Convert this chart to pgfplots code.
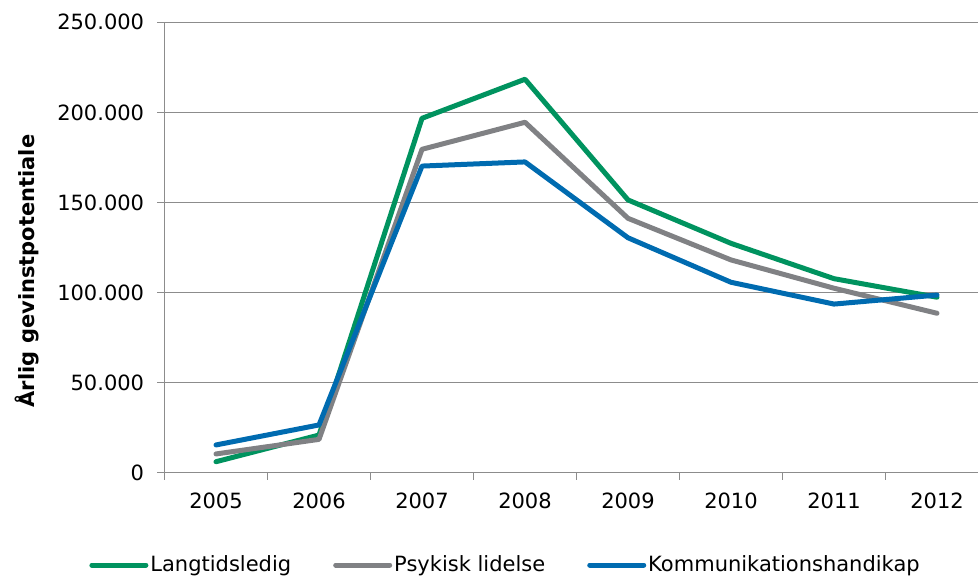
\documentclass[border=0pt]{standalone}
\usepackage{fontspec}
\setmainfont{DejaVu Sans}
\usepackage{pgfplots}
\pgfplotsset{compat=1.18}
\definecolor{cgreen}{HTML}{00935F}
\definecolor{cgray}{HTML}{808184}
\definecolor{cblue}{HTML}{006BB0}
\definecolor{cgrid}{HTML}{8C8C8C}
\begin{document}
\fontsize{10.5}{12.6}\selectfont
\begin{tikzpicture}
\begin{axis}[
  at={(0pt,0pt)}, anchor=south west,
  scale only axis,
  width=406.75pt, height=225.2pt,
  xmin=-0.5, xmax=7.398,
  ymin=0, ymax=250000,
  ytick={0,50000,100000,150000,200000,250000},
  xtick={0,...,7},
  xticklabels={2005,2006,2007,2008,2009,2010,2011,2012},
  minor xtick={-0.5,0.5,1.5,2.5,3.5,4.5,5.5,6.5},
  major x tick style={draw=none},
  tick align=outside,
  major tick length=3.5pt,
  minor tick length=3.5pt,
  tick style={cgrid, line width=0.65pt},
  ymajorgrids,
  grid style={cgrid, line width=0.65pt},
  axis x line*=bottom,
  axis y line*=left,
  axis line style={cgrid, line width=0.65pt},
  y axis line style={-}, x axis line style={-},
  scaled y ticks=false,
  /pgf/number format/.cd, assume math mode=true, 1000 sep={.}, fixed,
  /pgfplots/.cd,
  tick label style={font=\fontsize{10.5}{12.6}\selectfont, text=black},
  yticklabel style={xshift=-3pt},
  xticklabel style={yshift=-2.8pt},
  ylabel={\bfseries Årlig gevinstpotentiale},
  every axis y label/.style={at={(rel axis cs:0,0.5)}, xshift=-68.75pt, yshift=-11.75pt, rotate=90, anchor=center, font=\fontsize{10.5}{12.6}\selectfont},
  legend columns=3,
  legend style={at={(rel axis cs:0,0)}, anchor=west, xshift=-37.75pt, yshift=-46.15pt,
    draw=none, fill=none, inner sep=0pt, font=\fontsize{10.5}{12.6}\selectfont,
    nodes={inner xsep=0pt, inner ysep=1pt},
    /tikz/every odd column/.append style={column sep=1pt},
    /tikz/every even column/.append style={column sep=21pt}},
  legend image code/.code={\draw[#1, line width=2.5pt, line cap=round] (0pt,0pt) -- (27pt,0pt);},
  every axis plot/.append style={line width=2.5pt, line join=round, line cap=round},
  clip=false,
]
\addplot[cgreen] coordinates {(0,6100) (1,20900) (2,196700) (3,218400) (4,151400) (5,127300) (6,107700) (7,97400)};
\addlegendentry{Langtidsledig}
\addplot[cgray] coordinates {(0,10400) (1,18500) (2,179500) (3,194500) (4,141200) (5,118100) (6,102400) (7,88500)};
\addlegendentry{Psykisk lidelse}
\addplot[cblue] coordinates {(0,15400) (1,26500) (2,170200) (3,172500) (4,130400) (5,105700) (6,93600) (7,98600)};
\addlegendentry{Kommunikationshandikap}
\end{axis}
\pgfresetboundingbox
\path[use as bounding box] (-82.25pt,-52.15pt) rectangle (406.75pt,236.35pt);
\end{tikzpicture}
\end{document}
